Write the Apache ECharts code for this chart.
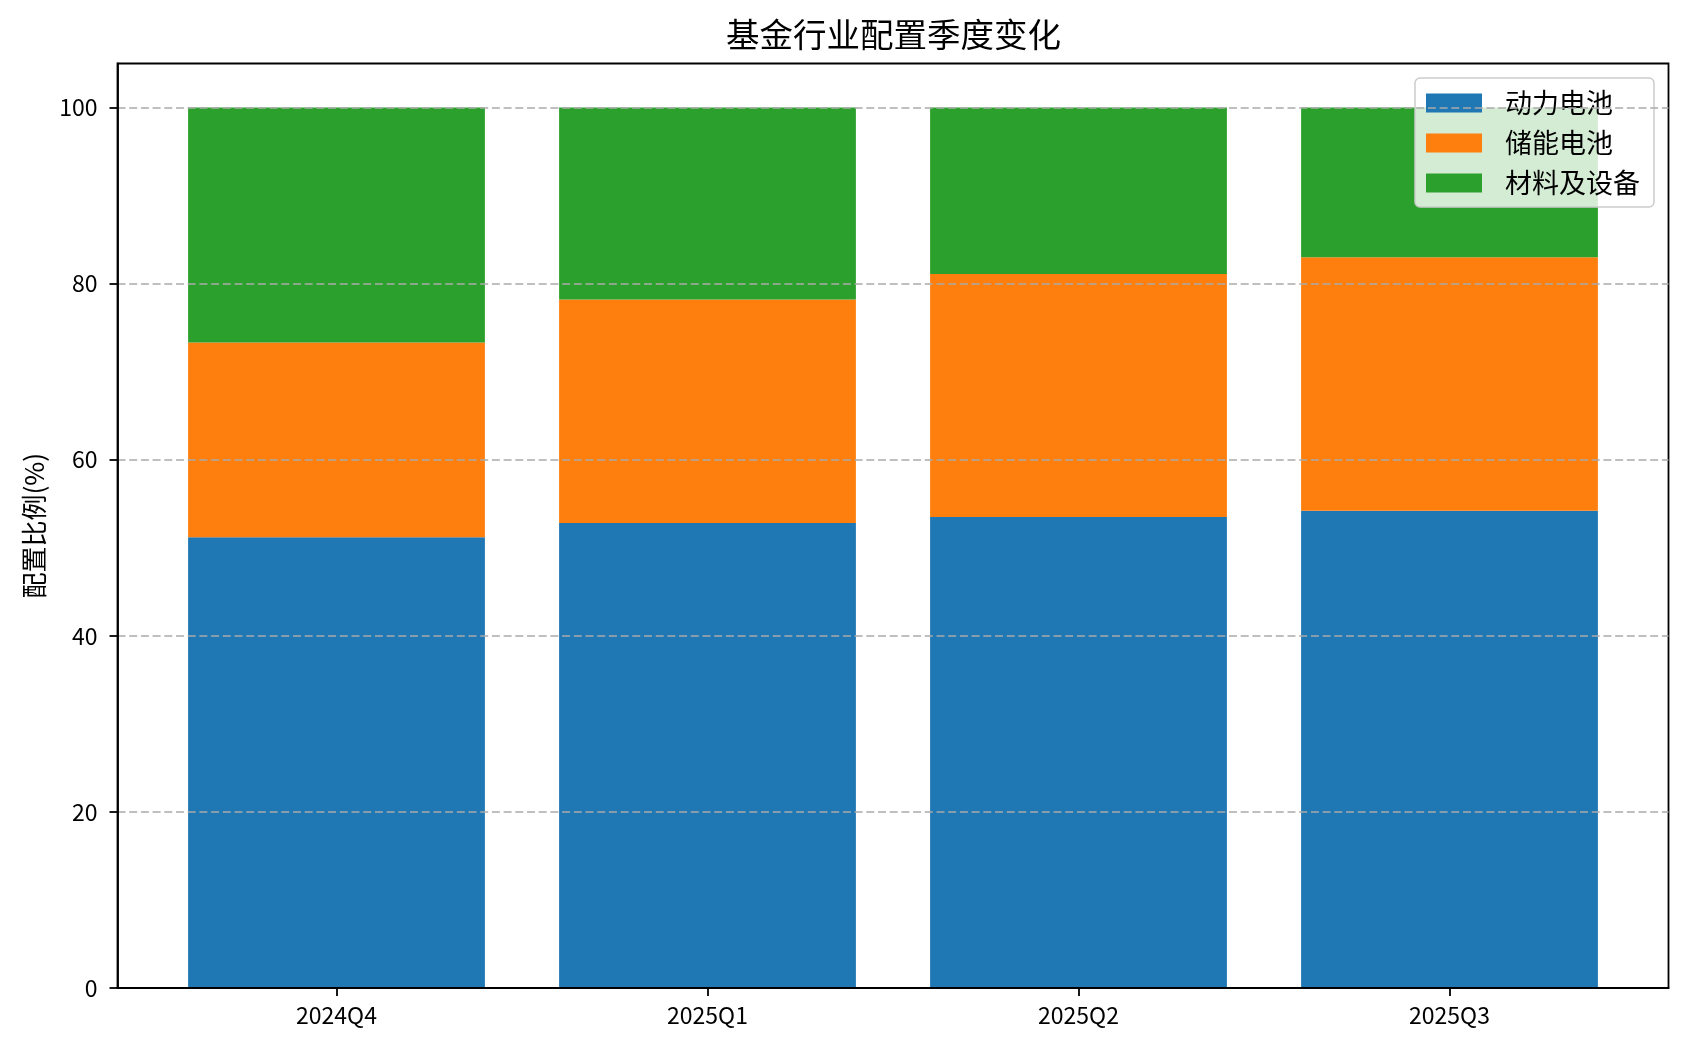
<!DOCTYPE html>
<html>
<head>
<meta charset="utf-8">
<script src="https://cdn.jsdelivr.net/npm/echarts@6/dist/echarts.min.js"></script>
<style>
html,body{margin:0;padding:0;background:#fff;}
#chart{width:1687px;height:1049px;}
</style>
</head>
<body>
<div id="chart"></div>
<script>
const categories = ['2024Q4', '2025Q1', '2025Q2', '2025Q3'];
const powerBattery = [51.2, 52.8, 53.5, 54.2];
const storageBattery = [22.1, 25.4, 27.6, 28.8];
const materialsEquip = [26.7, 21.8, 18.9, 17.0];
const seriesNames = ['动力电池', '储能电池', '材料及设备'];
const yTicks = [0, 20, 40, 60, 80, 100];

const FONT = '"Noto Sans CJK SC", "Noto Sans", sans-serif';
const chart = echarts.init(document.getElementById('chart'), null, {renderer: 'canvas'});

const option = {
  backgroundColor: '#ffffff',
  animation: false,
  title: {
    text: '基金行业配置季度变化',
    left: 726,
    top: 16,
    padding: [2, 0, 2, 0],
    textStyle: {fontFamily: FONT, fontSize: 33.5, fontWeight: 'normal', color: '#000'}
  },
  legend: {
    data: seriesNames,
    orient: 'vertical',
    left: 1415,
    top: 78,
    padding: [11, 14, 10, 11],
    itemWidth: 56,
    itemHeight: 19,
    itemGap: 12,
    icon: 'rect',
    backgroundColor: 'rgba(255,255,255,0.8)',
    borderColor: '#cccccc',
    borderWidth: 1.5,
    borderRadius: 5,
    textStyle: {fontFamily: FONT, fontSize: 27, lineHeight: 28, color: '#000', padding: [0, 0, 0, 18]}
  },
  grid: [
    {left: 117.5, top: 63.5, right: 18.5, bottom: 61, show: true, borderColor: '#000', borderWidth: 1.8, backgroundColor: 'transparent', containLabel: false},
    {left: 151, top: 63.5, right: 52, bottom: 61, containLabel: false}
  ],
  xAxis: [
    {type: 'value', gridIndex: 0, min: 0, max: 1, z: 10,
     axisLine: {show: true, lineStyle: {color: '#000', width: 1.8}},
     axisTick: {show: false}, axisLabel: {show: false}, splitLine: {show: false}},
    {type: 'category', gridIndex: 1, data: categories, boundaryGap: true,
     axisLine: {show: false},
     axisTick: {show: true, alignWithLabel: true, length: 8, lineStyle: {color: '#000', width: 1.8}},
     axisLabel: {fontFamily: FONT, fontSize: 23, color: '#000', margin: 16},
     splitLine: {show: false}}
  ],
  yAxis: [
    {type: 'value', gridIndex: 0, min: 0, max: 105, interval: 20, z: 10,
     name: '配置比例(%)', nameLocation: 'middle', nameGap: 70, nameRotate: 90,
     nameTextStyle: {fontFamily: FONT, fontSize: 26, color: '#000'},
     axisLine: {show: true, lineStyle: {color: '#000', width: 1.8}},
     axisTick: {show: true, length: 8, customValues: yTicks, lineStyle: {color: '#000', width: 1.8}},
     axisLabel: {fontFamily: FONT, fontSize: 23, color: '#000', margin: 20, customValues: yTicks},
     splitLine: {show: true, lineStyle: {color: '#aaaaaa', width: 1.7, type: [8, 3.7]}}},
    {type: 'value', gridIndex: 1, min: 0, max: 105, show: false, splitLine: {show: false}}
  ],
  series: [
    {name: seriesNames[0], type: 'bar', stack: 'total', xAxisIndex: 1, yAxisIndex: 1, barWidth: '80%', data: powerBattery, itemStyle: {color: '#1f77b4'}},
    {name: seriesNames[1], type: 'bar', stack: 'total', xAxisIndex: 1, yAxisIndex: 1, barWidth: '80%', data: storageBattery, itemStyle: {color: '#ff7f0e'}},
    {name: seriesNames[2], type: 'bar', stack: 'total', xAxisIndex: 1, yAxisIndex: 1, barWidth: '80%', data: materialsEquip, itemStyle: {color: '#2ca02c'}}
  ]
};
chart.setOption(option);
</script>
</body>
</html>
